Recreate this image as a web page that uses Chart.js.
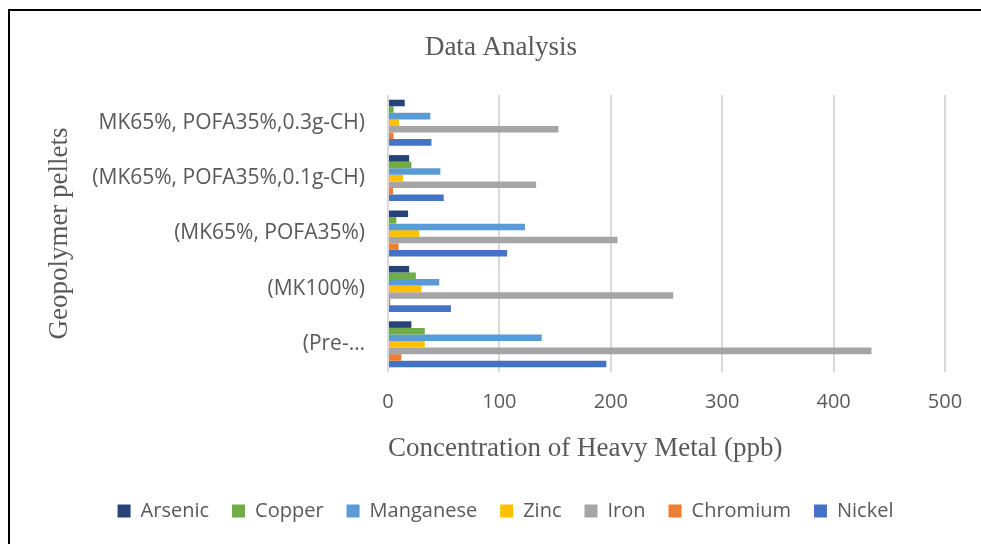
<!DOCTYPE html>
<html>
<head>
<meta charset="utf-8">
<script src="https://cdn.jsdelivr.net/npm/chart.js@4.4.1/dist/chart.umd.min.js"></script>
<style>
  html, body { margin: 0; padding: 0; background: #fff; overflow: hidden; }
  #frame {
    position: absolute; left: 8px; top: 9px; width: 2000px; height: 2000px;
    border: 2px solid #000; pointer-events: none;
  }
  canvas { position: absolute; left: 0; top: 0; }
</style>
</head>
<body>
<canvas id="myChart" width="981" height="544"></canvas>
<div id="frame"></div>
<script>
// categories, top to bottom as in the picture
let pellets = [
  "MK65%, POFA35%,0.3g-CH)",
  "(MK65%, POFA35%,0.1g-CH)",
  "(MK65%, POFA35%)",
  "(MK100%)",
  "(Pre-\u2026"
];

// ppb values, same order as pellets
let arsenic   = [15, 19, 18, 19, 21];
let copper    = [5, 21, 7.5, 25, 33];
let manganese = [38, 47, 123, 46, 138];
let zinc      = [10, 13.5, 28, 30, 33];
let iron      = [153, 133, 206, 256, 434];
let chromium  = [5, 4.5, 9.5, 2, 12];
let nickel    = [39, 50, 107, 56.5, 196];

let xTicks = [0, 100, 200, 300, 400, 500];

let grey = "#595959";

// title sits a bit left of the plot centre, like in Excel
const chartTitle = {
  id: "chartTitle",
  afterDraw(chart) {
    let c = chart.ctx;
    c.save();
    c.font = "27px 'Liberation Serif'";
    c.fillStyle = grey;
    c.textAlign = "center";
    c.textBaseline = "middle";
    c.fillText("Data Analysis", 501, 47.5);
    c.restore();
  },
};

let ctx = document.querySelector("#myChart").getContext("2d");

let chart = new Chart(ctx, {
  type: "bar",
  data: {
    labels: pellets,
    datasets: [
      { label: "Arsenic",   data: arsenic,   backgroundColor: "#264478" },
      { label: "Copper",    data: copper,    backgroundColor: "#70AD47" },
      { label: "Manganese", data: manganese, backgroundColor: "#5B9BD5" },
      { label: "Zinc",      data: zinc,      backgroundColor: "#FFC000" },
      { label: "Iron",      data: iron,      backgroundColor: "#A5A5A5" },
      { label: "Chromium",  data: chromium,  backgroundColor: "#ED7D31" },
      { label: "Nickel",    data: nickel,    backgroundColor: "#4472C4" },
    ],
  },
  plugins: [chartTitle],
  options: {
    indexAxis: "y",
    responsive: false,
    animation: false,
    devicePixelRatio: 1,
    categoryPercentage: 0.83,
    barPercentage: 1,
    // left padding pushes the legend centre right, the y title is pulled back below
    layout: {
      padding: { left: 66, right: 36, top: 95, bottom: 13 },
    },
    plugins: {
      tooltip: { enabled: false },
      title: { display: false },
      legend: {
        position: "bottom",
        labels: {
          color: grey,
          boxWidth: 13,
          boxHeight: 13,
          padding: 23,
          font: { family: "Open Sans", size: 20 },
        },
      },
    },
    scales: {
      x: {
        min: 0,
        max: 500,
        afterBuildTicks: (scale) => {
          scale.ticks = xTicks.map((v) => ({ value: v }));
        },
        afterFit: (scale) => {
          scale.height = 106;
        },
        grid: { color: "#d9d9d9", lineWidth: 2, drawTicks: false },
        border: { display: false },
        ticks: {
          color: grey,
          padding: 18,
          font: { family: "Open Sans", size: 20 },
        },
        title: {
          display: true,
          align: "start",
          text: "Concentration of Heavy Metal (ppb)",
          color: grey,
          font: { family: "Liberation Serif", size: 27 },
          padding: { top: 0, bottom: 13 },
        },
      },
      y: {
        afterFit: (scale) => {
          scale.width = 322;
        },
        grid: { display: false, drawTicks: false },
        border: { display: false },
        ticks: {
          color: grey,
          padding: 23,
          font: { family: "Open Sans", size: 21 },
        },
        title: {
          display: true,
          text: "Geopolymer pellets",
          color: grey,
          font: { family: "Liberation Serif", size: 27 },
          padding: { top: -22, bottom: 0 },
        },
      },
    },
  },
});
</script>
</body>
</html>
